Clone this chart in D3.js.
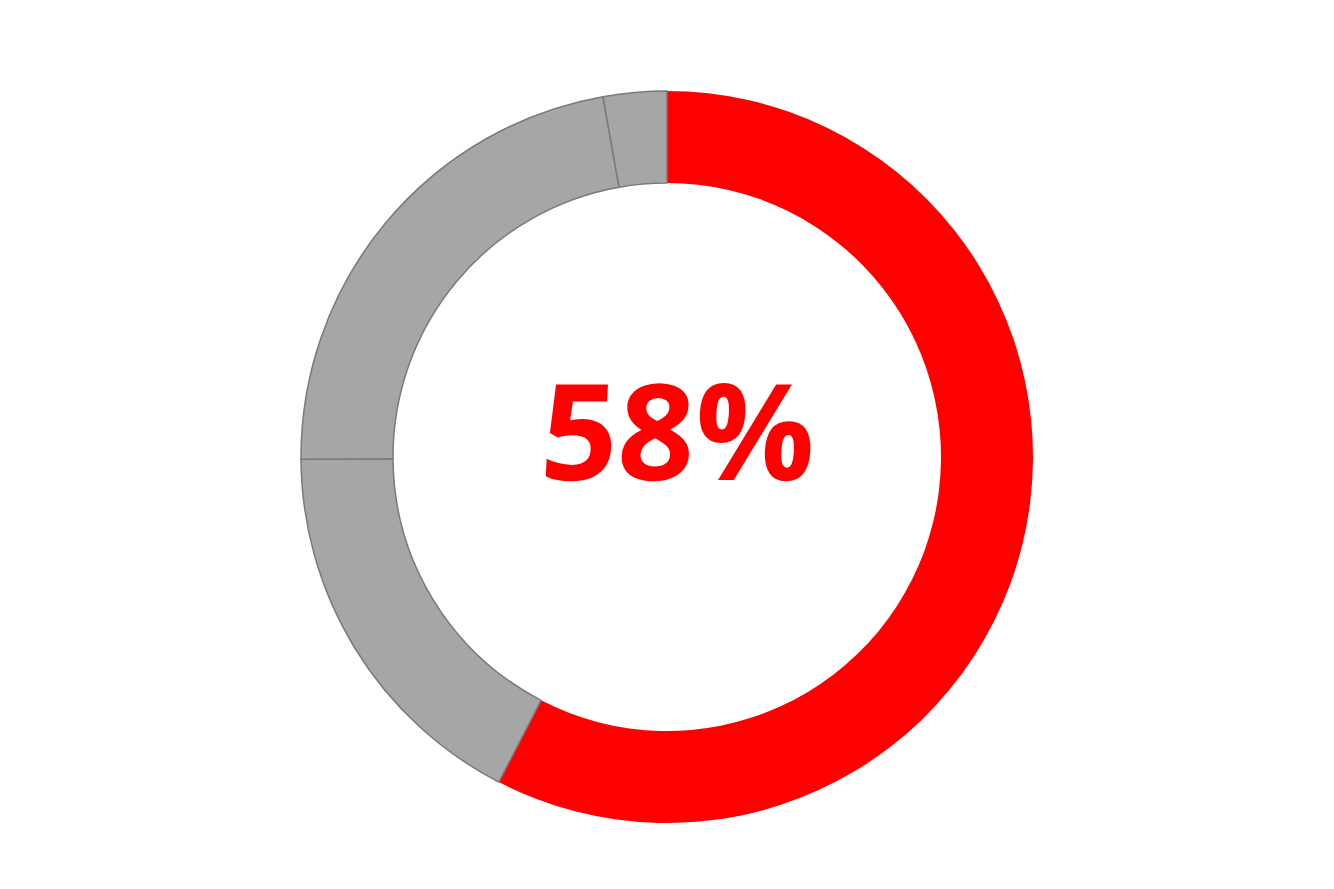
<!DOCTYPE html>
<html>
<head>
<meta charset="utf-8">
<script src="https://cdn.jsdelivr.net/npm/d3@7"></script>
<style>
  body { margin: 0; background: #fff; }
</style>
</head>
<body>
<div id="chart"></div>
<script>
// data
const labels = ["done", "a", "b", "c"];
const values = [57.6, 17.3, 22.3, 2.8];
const colors = ["#ff0000", "#a6a6a6", "#a6a6a6", "#a6a6a6"];

// constants
const WIDTH = 1334;
const HEIGHT = 889;
const CX = 667;
const CY = 457;
const OUTER = 366;
const INNER = 274;

const svg = d3.select("#chart").append("svg")
    .attr("width", WIDTH)
    .attr("height", HEIGHT);

const g = svg.append("g").attr("transform", "translate(" + CX + "," + CY + ")");

const pie = d3.pie().sort(null).value(d => d.value);
const arc = d3.arc().innerRadius(INNER).outerRadius(OUTER);

const slices = pie(values.map((v, i) => ({ label: labels[i], value: v, color: colors[i] })));

// red first, grey on top so the grey edges show
g.selectAll(".slice")
    .data(slices)
    .enter().append("path")
    .attr("class", "slice")
    .attr("d", arc)
    .attr("fill", d => d.data.color)
    .attr("stroke", (d, i) => i === 0 ? "none" : "#7a7a7a")
    .attr("stroke-width", 1.5);

// centre label, slightly oblique like the original
const total = d3.sum(values);
g.append("g")
    .attr("transform", "translate(9,23) skewX(-3)")
    .append("text")
    .attr("text-anchor", "middle")
    .attr("fill", "#ff0000")
    .style("font-family", "'Open Sans', sans-serif")
    .style("font-weight", "bold")
    .style("font-size", "134px")
    .text(Math.round(values[0] / total * 100) + "%");
</script>
</body>
</html>
